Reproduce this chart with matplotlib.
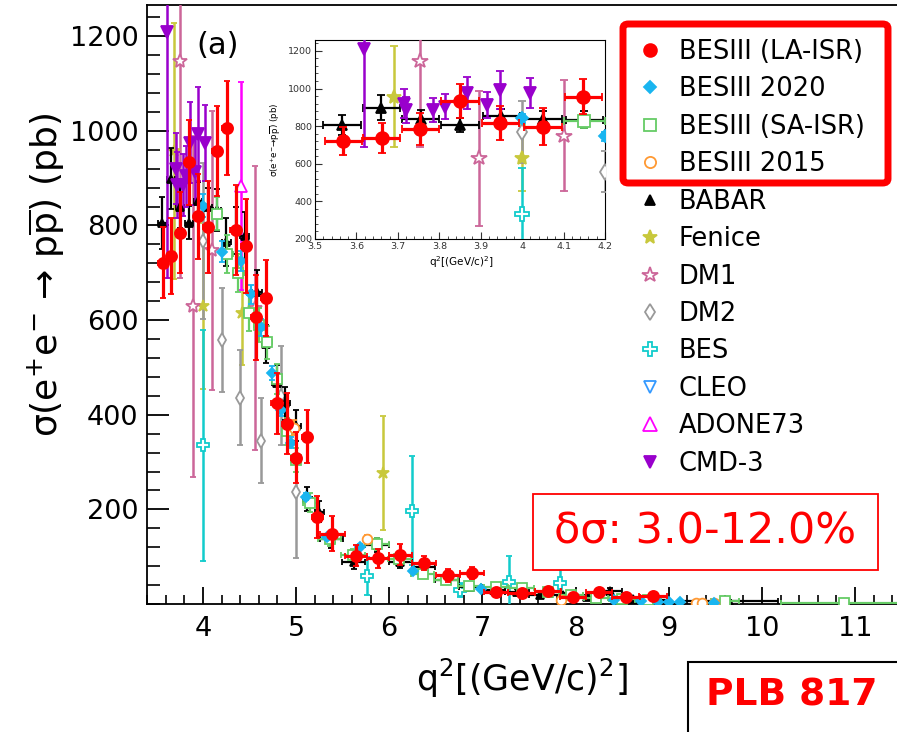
import numpy as np
import matplotlib.pyplot as plt
from matplotlib.lines import Line2D
from matplotlib.patches import Rectangle, FancyBboxPatch
from matplotlib.ticker import MultipleLocator, FormatStrFormatter

plt.rcParams['font.family'] = ['DejaVu Sans']
plt.rcParams['mathtext.fontset'] = 'dejavusans'

# BESIII (LA-ISR)
la_x = [3.568, 3.661, 3.754, 3.850, 3.947, 4.050, 4.148, 4.26, 4.35, 4.46, 4.57, 4.68, 4.79, 4.90, 5.00, 5.12,
        5.23, 5.39, 5.64, 5.88, 6.12, 6.37, 6.63, 6.89, 7.15, 7.42, 7.70, 7.97, 8.25, 8.54, 8.83]
la_y = [721, 735, 785, 934, 819, 797, 957, 1006, 790, 757, 606, 646, 424, 381, 309, 354,
        184, 148, 102, 97, 104, 87, 61, 66, 25, 23, 28, 15, 25, 15, 17]
la_yerr = [75, 80, 85, 90, 90, 97, 95, 100, 95, 100, 90, 80, 65, 65, 54, 55,
           44, 37, 22, 20, 22, 15, 14, 13, 8, 8, 7, 6, 6, 5, 5]
la_xerr = [0.045, 0.045, 0.045, 0.045, 0.045, 0.045, 0.045, 0.055, 0.055, 0.055, 0.055, 0.055, 0.055, 0.055, 0.055, 0.055,
           0.055, 0.13, 0.12, 0.12, 0.12, 0.13, 0.13, 0.13, 0.13, 0.14, 0.14, 0.14, 0.14, 0.15, 0.15]

# BESIII 2020
b20_x = [4.00, 4.20, 4.41, 4.52, 4.62, 4.74, 4.84, 4.95, 5.11, 5.33, 5.69, 6.25, 6.99, 8.41, 8.70, 8.88, 9.00, 9.12, 9.49]
b20_y = [842, 745, 725, 655, 585, 489, 411, 341, 227, 142, 121, 70, 32, 8, 6, 5, 5, 4, 3]
b20_yerr = [25, 22, 22, 20, 18, 15, 13, 11, 8, 6, 5, 4, 2, 1, 1, 1, 1, 1, 1]

# BESIII (SA-ISR)
sa_x = [4.15, 4.26, 4.38, 4.50, 4.60, 4.69, 4.79, 4.90, 5.00, 5.15, 5.36, 5.61, 5.87, 6.11, 6.36, 6.61, 6.86,
        7.15, 7.42, 7.70, 7.95, 8.22, 8.50, 8.78, 9.60, 10.88]
sa_y = [825, 740, 700, 616, 590, 553, 475, 365, 305, 214, 137, 104, 127, 95, 64, 50, 38,
        36, 34, 25, 20, 13, 10, 8, 6, 2]
sa_yerr = [35, 40, 40, 38, 36, 35, 32, 28, 25, 20, 15, 12, 12, 10, 8, 7, 6,
           5, 5, 4, 4, 3, 3, 3, 2, 1]
sa_xerr = [0.05, 0.06, 0.06, 0.06, 0.05, 0.05, 0.05, 0.05, 0.05, 0.08, 0.12, 0.125, 0.125, 0.125, 0.125, 0.125, 0.125,
           0.13, 0.13, 0.14, 0.13, 0.13, 0.14, 0.14, 0.15, 0.68]

# BESIII 2015
b15_x = [4.98, 5.76, 7.84, 9.29, 9.36, 9.49]
b15_y = [373, 137, 8, 3, 3, 3]
b15_yerr = [15, 8, 2, 1, 1, 1]

# BABAR
bab_x = [3.565, 3.66, 3.755, 3.85, 3.95, 4.05, 4.15, 4.25, 4.35, 4.45, 4.58, 4.68, 4.79, 4.88, 5.00, 5.12, 5.25,
         5.38, 5.62, 5.87, 6.12, 6.37, 6.62, 6.87, 7.12, 7.37, 7.62, 7.87, 8.12, 8.37, 8.62, 8.87, 9.65, 10.9]
bab_y = [806, 899, 840, 806, 852, 840, 833, 765, 790, 778, 660, 549, 468, 424, 377, 222, 195,
         137, 89, 125, 89, 78, 51, 36, 30, 25, 20, 18, 15, 28, 10, 8, 6, 3]
bab_yerr = [55, 65, 45, 35, 40, 40, 45, 50, 50, 50, 45, 40, 38, 35, 33, 25, 22,
            18, 14, 15, 12, 11, 9, 8, 7, 6, 5, 5, 5, 5, 4, 4, 3, 2]
bab_xerr = [0.045, 0.045, 0.045, 0.045, 0.045, 0.045, 0.045, 0.05, 0.05, 0.05, 0.05, 0.05, 0.05, 0.05, 0.05, 0.05, 0.05,
            0.125, 0.125, 0.125, 0.125, 0.125, 0.125, 0.125, 0.125, 0.125, 0.125, 0.125, 0.125, 0.125, 0.125, 0.125, 0.52, 0.0]

# Fenice
fen_x = [3.69, 4.00, 4.42, 5.93]
fen_y = [957, 630, 616, 277]
fen_yerr = [270, 175, 110, 120]

# DM1
dm1_x = [3.754, 3.895, 4.10, 4.56]
dm1_y = [1148, 629, 748, 626]
dm1_yerr = [460, 360, 295, 300]

# DM2
dm2_x = [4.00, 4.20, 4.40, 4.62, 4.84, 5.00]
dm2_y = [767, 558, 436, 345, 440, 237]
dm2_yerr = [165, 110, 100, 90, 105, 140]

# BES
bes_x = [4.00, 5.76, 6.24, 6.76, 7.29, 7.83]
bes_y = [335, 59, 197, 30, 47, 44]
bes_yerr = [245, 40, 115, 15, 55, 37]

# CLEO (outside the shown range)
cleo_x = [13.48]
cleo_y = [1.2]
cleo_yerr = [0.2]

# ADONE73
ad_x = [4.41]
ad_y = [884]
ad_yerr = [220]

# CMD-3
cmd_x = [3.619, 3.716, 3.72, 3.786, 3.814, 3.866, 3.915, 3.947, 4.019]
cmd_y = [1209, 920, 885, 886, 904, 975, 913, 993, 975]
cmd_yerr = [520, 75, 70, 65, 65, 85, 70, 100, 80]

labels = ['BESIII (LA-ISR)', 'BESIII 2020', 'BESIII (SA-ISR)', 'BESIII 2015', 'BABAR', 'Fenice',
          'DM1', 'DM2', 'BES', 'CLEO', 'ADONE73', 'CMD-3']

# (x, y, xerr, yerr, marker, color, face, size, line width, zorder)
series = [
    (la_x, la_y, la_xerr, la_yerr, 'o', '#ff0000', '#ff0000', 8, 2.3, 10),
    (b20_x, b20_y, None, b20_yerr, 'D', '#19b5f0', '#19b5f0', 5, 1.6, 8),
    (sa_x, sa_y, sa_xerr, sa_yerr, 's', '#66cc66', 'white', 7, 1.6, 7),
    (b15_x, b15_y, None, b15_yerr, 'o', '#ff9933', 'white', 7, 1.4, 7.5),
    (bab_x, bab_y, bab_xerr, bab_yerr, '^', 'black', 'black', 6, 1.6, 6),
    (fen_x, fen_y, None, fen_yerr, '*', '#c8c83c', '#c8c83c', 9, 1.8, 5),
    (dm1_x, dm1_y, None, dm1_yerr, '*', '#cc6699', 'white', 10, 1.8, 5),
    (dm2_x, dm2_y, None, dm2_yerr, 'd', '#999999', 'white', 7, 1.8, 5),
    (bes_x, bes_y, None, bes_yerr, 'P', '#11cccc', 'white', 9, 1.8, 5),
    (cleo_x, cleo_y, None, cleo_yerr, 'v', '#3399ff', 'white', 7, 1.6, 5),
    (ad_x, ad_y, None, ad_yerr, '^', '#ff00ff', 'white', 9, 1.8, 5),
    (cmd_x, cmd_y, None, cmd_yerr, 'v', '#9900cc', '#9900cc', 8, 1.8, 6),
]


def draw(a, scale):
    for x, y, xe, ye, m, c, f, ms, lw, z in series:
        a.errorbar(x, y, xerr=xe, yerr=ye, fmt=m, color=c, mfc=f, mec=c, ms=ms * scale,
                   elinewidth=lw, capsize=2.5 * scale, capthick=lw, mew=1.3, zorder=z)


fig = plt.figure(figsize=(8.97, 7.32), dpi=100)

# main view
ax = fig.add_axes([147 / 897, 128 / 732, 750 / 897, 599 / 732])
draw(ax, 1.0)
ax.set_xlim(3.4, 11.45)
ax.set_ylim(0, 1266)
ax.xaxis.set_major_locator(MultipleLocator(1))
ax.xaxis.set_minor_locator(MultipleLocator(0.2))
ax.set_yticks(np.arange(200, 1201, 200))
ax.yaxis.set_minor_locator(MultipleLocator(40))
ax.spines['right'].set_visible(False)
for s in ax.spines.values():
    s.set_linewidth(1.3)
ax.tick_params(which='both', direction='in', top=False, right=False, labelsize=19.5)
ax.tick_params(axis='y', which='major', length=16, width=1.3, pad=6)
ax.tick_params(axis='y', which='minor', length=9, width=1.2)
ax.tick_params(axis='x', which='major', length=12, width=1.3, pad=9)
ax.tick_params(axis='x', which='minor', length=6.5, width=1.2)

fig.text(522 / 897, 1 - 678 / 732, r'q$^2$[(GeV/c)$^2$]', fontsize=25, ha='center', va='center')
fig.text(47 / 897, 1 - 275 / 732, r'σ(e$^{+}$e$^{-}$ → p$\overline{\mathrm{p}}$) (pb)',
         fontsize=26, rotation=90, ha='center', va='center')
fig.text(218 / 897, 1 - 45 / 732, '(a)', fontsize=22, ha='center', va='center')

# zoomed view
ins = fig.add_axes([315 / 897, 1 - 239 / 732, 290 / 897, 199 / 732])
draw(ins, 1.15)
ins.set_xlim(3.5, 4.2)
ins.set_ylim(200, 1258)
ins.xaxis.set_major_locator(MultipleLocator(0.1))
ins.xaxis.set_minor_locator(MultipleLocator(0.02))
ins.xaxis.set_major_formatter(FormatStrFormatter('%g'))
ins.yaxis.set_major_locator(MultipleLocator(200))
ins.yaxis.set_minor_locator(MultipleLocator(40))
ins.tick_params(which='both', direction='in', top=False, right=False, labelsize=6.8, colors='#333333')
ins.tick_params(which='major', length=5, pad=2)
ins.tick_params(which='minor', length=2.5)
fig.text(461 / 897, 1 - 262 / 732, r'q$^2$[(GeV/c)$^2$]', fontsize=7.5, ha='center', va='center')
fig.text(276 / 897, 1 - 140 / 732, r'σ(e$^{+}$e$^{-}$→p$\overline{\mathrm{p}}$) (pb)',
         fontsize=6.3, rotation=90, ha='center', va='center')

# legend
handles = [Line2D([], [], linestyle='none', marker=m, color=c, mfc=f, mec=c, ms=ms * 1.15, mew=1.3)
           for x, y, xe, ye, m, c, f, ms, lw, z in series]
fig.legend(handles, labels, loc='upper left', bbox_to_anchor=(640 / 897, 1 - 39 / 732), frameon=False,
           fontsize=18.5, labelspacing=0.445, handlelength=0.8, handletextpad=0.7,
           borderpad=0, borderaxespad=0)
fig.add_artist(FancyBboxPatch((623 / 897, 1 - 183 / 732), 265 / 897, 159 / 732,
                              boxstyle='round,pad=0,rounding_size=0.006', transform=fig.transFigure,
                              fc='none', ec='#ff0000', lw=5))

# annotation boxes
fig.add_artist(Rectangle((533 / 897, 1 - 570 / 732), 345 / 897, 76 / 732, transform=fig.transFigure,
                         fc='white', ec='#ff0000', lw=1.3, zorder=20))
fig.text(705 / 897, 1 - 532 / 732, 'δσ: 3.0-12.0%', fontsize=31, color='#ff0000',
         ha='center', va='center', zorder=21)
fig.add_artist(Rectangle((688 / 897, -0.05), 0.3, 1 - 662 / 732 + 0.05, transform=fig.transFigure,
                         fc='white', ec='black', lw=1.5, zorder=20))
fig.text(792 / 897, 1 - 695 / 732, 'PLB 817', fontsize=27, fontweight='bold', color='#ff0000',
         ha='center', va='center', zorder=21)

fig.savefig('out.png', dpi=100)
